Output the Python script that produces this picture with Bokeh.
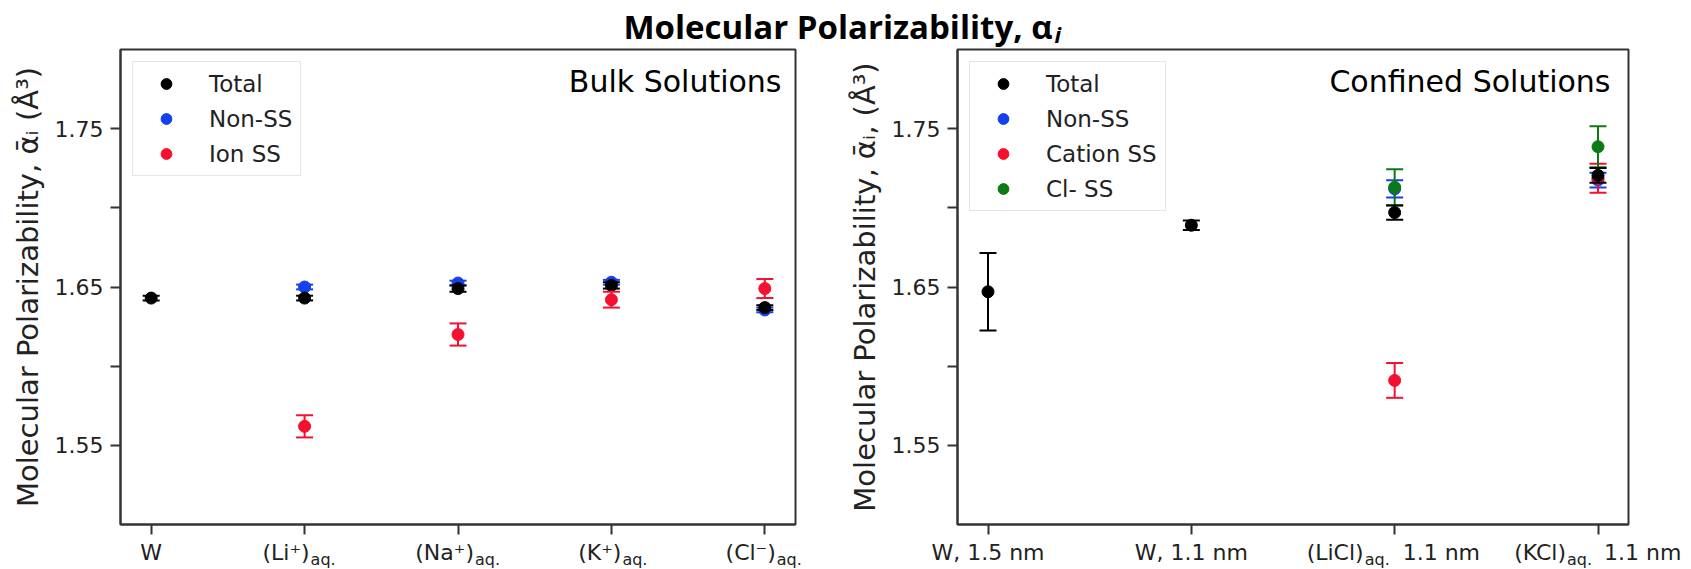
from bokeh.plotting import figure
from bokeh.models import Range1d, FixedTicker, Label, Legend, LegendItem, ColumnDataSource
from bokeh.layouts import column, row
from bokeh.embed import file_html
from bokeh.resources import INLINE

# ---------------- data ----------------
title_main = "Molecular Polarizability, α"
title_sub = "i"

bulk_tick_main = ["W", "(Li⁺)", "(Na⁺)", "(K⁺)", "(Cl⁻)"]
bulk_tick_sub = ["", "aq.", "aq.", "aq.", "aq."]
bulk_x = [0, 1, 2, 3, 4]
bulk_total = [1.643, 1.643, 1.649, 1.651, 1.637]
bulk_total_err = [0.0015, 0.0015, 0.002, 0.002, 0.0015]
bulk_nonss_x = [1, 2, 3, 4]
bulk_nonss = [1.650, 1.6525, 1.653, 1.6355]
bulk_nonss_err = [0.0015, 0.0015, 0.0015, 0.0015]
bulk_ionss_x = [1, 2, 3, 4]
bulk_ionss = [1.562, 1.620, 1.642, 1.649]
bulk_ionss_err = [0.007, 0.007, 0.005, 0.006]

conf_tick_main = ["W, 1.5 nm", "W, 1.1 nm", "(LiCl)", "(KCl)"]
conf_tick_sub = ["", "", "aq.", "aq."]
conf_tick_suffix = ["", "", "1.1 nm", "1.1 nm"]
conf_x = [0, 1, 2, 3]
conf_total = [1.647, 1.689, 1.697, 1.7205]
conf_total_err = [0.0245, 0.003, 0.0045, 0.0047]
conf_nonss_x = [2, 3]
conf_nonss = [1.712, 1.7175]
conf_nonss_err = [0.0054, 0.0047]
conf_cation_x = [2, 3]
conf_cation = [1.591, 1.7187]
conf_cation_err = [0.011, 0.0092]
conf_cl_x = [2, 3]
conf_cl = [1.713, 1.7386]
conf_cl_err = [0.0114, 0.013]

y_tick_values = [1.55, 1.65, 1.75]
y_tick_labels = ["1.55", "1.65", "1.75"]
y_minor_values = [1.60, 1.70]

bulk_ylabel = "Molecular Polarizability, ᾱᵢ (Å³)"
conf_ylabel = "Molecular Polarizability, ᾱᵢ, (Å³)"
bulk_note = "Bulk Solutions"
conf_note = "Confined Solutions"

# ---------------- style / layout ----------------
BLACK = "#000000"
BLUE = "#1440ee"
RED = "#f5102f"
GREEN = "#0b7a16"
SPINE = "#333333"
TXT = "#222222"
FONT = "DejaVu Sans"

W_TOTAL = 1691
TITLE_H = 48
TOP_B = 1
FRAME_H = 475
BOTTOM_B = 13
STRIP_H = 569 - TITLE_H - TOP_B - FRAME_H - BOTTOM_B

L_FRAME_W, L_BL, L_BR = 675, 120, 42
R_FRAME_W, R_BL, R_BR = 671, 120, 63
LEFT_W = L_FRAME_W + L_BL + L_BR


def add_series(p, xs, ys, errs, color):
    lo = [y - e for y, e in zip(ys, errs)]
    hi = [y + e for y, e in zip(ys, errs)]
    src = ColumnDataSource(dict(x=xs, y=ys, lo=lo, hi=hi))
    p.segment(x0="x", y0="lo", x1="x", y1="hi", source=src, line_color=color, line_width=2)
    p.scatter(x="x", y="lo", source=src, marker="dash", size=17, line_color=color, line_width=2)
    p.scatter(x="x", y="hi", source=src, marker="dash", size=17, line_color=color, line_width=2)
    return p.scatter(x="x", y="y", source=src, marker="circle", size=12,
                     fill_color=color, line_color=color)


def make_panel(xr, frame_w, border_left, border_right, ylabel, n):
    p = figure(title=None, x_range=xr, y_range=Range1d(1.50, 1.80),
               frame_width=frame_w, frame_height=FRAME_H,
               min_border_left=border_left, min_border_right=border_right,
               min_border_top=TOP_B, min_border_bottom=BOTTOM_B,
               toolbar_location=None, output_backend="svg")
    p.background_fill_color = "white"
    p.border_fill_color = "white"
    p.grid.visible = False
    p.outline_line_color = SPINE
    p.outline_line_width = 2
    for ax in (p.xaxis[0], p.yaxis[0]):
        ax.axis_line_color = SPINE
        ax.axis_line_width = 2
        ax.major_tick_line_color = SPINE
        ax.major_tick_line_width = 2
        ax.major_tick_out = 10
        ax.major_tick_in = 0
        ax.minor_tick_line_color = SPINE
        ax.minor_tick_line_width = 2
        ax.minor_tick_out = 10
        ax.minor_tick_in = 0
        ax.major_label_text_font = FONT
        ax.major_label_text_font_size = "22px"
        ax.major_label_text_color = TXT
    p.yaxis.ticker = FixedTicker(ticks=y_tick_values, minor_ticks=y_minor_values)
    p.yaxis.major_label_overrides = {v: s for v, s in zip(y_tick_values, y_tick_labels)}
    p.yaxis.major_label_standoff = 7
    p.yaxis.axis_label = ylabel
    p.yaxis.axis_label_text_font = FONT
    p.yaxis.axis_label_text_font_size = "29px"
    p.yaxis.axis_label_text_font_style = "normal"
    p.yaxis.axis_label_text_color = TXT
    p.yaxis.axis_label_standoff = 7
    p.xaxis.ticker = FixedTicker(ticks=list(range(n)), minor_ticks=[])
    p.xaxis.major_label_overrides = {i: "" for i in range(n)}
    p.xaxis.major_label_text_font_size = "1px"
    p.xaxis.major_label_standoff = 0
    return p


def legend(p, items):
    lg = Legend(items=[LegendItem(label=l, renderers=[r]) for l, r in items],
                location="top_left", margin=12, padding=8, spacing=8,
                glyph_width=50, glyph_height=27, label_standoff=18,
                label_text_font=FONT, label_text_font_size="23px", label_text_color=TXT,
                border_line_color="#cccccc", border_line_width=1.5,
                background_fill_color="white", background_fill_alpha=1.0)
    p.add_layout(lg)


def note(p, xr, text, x_off):
    p.add_layout(Label(x=xr.end, y=1.80, x_offset=x_off, y_offset=-32, text=text,
                       text_align="right", text_baseline="alphabetic",
                       text_font=FONT, text_font_size="30px", text_color=BLACK))


# ---------------- left panel ----------------
xr1 = Range1d(-0.2, 4.2)
p1 = make_panel(xr1, L_FRAME_W, L_BL, L_BR, bulk_ylabel, len(bulk_x))
r_b_non = add_series(p1, bulk_nonss_x, bulk_nonss, bulk_nonss_err, BLUE)
r_b_tot = add_series(p1, bulk_x, bulk_total, bulk_total_err, BLACK)
r_b_ion = add_series(p1, bulk_ionss_x, bulk_ionss, bulk_ionss_err, RED)
legend(p1, [("Total", r_b_tot), ("Non-SS", r_b_non), ("Ion SS", r_b_ion)])
note(p1, xr1, bulk_note, -14)

# ---------------- right panel ----------------
xr2 = Range1d(-0.15, 3.15)
p2 = make_panel(xr2, R_FRAME_W, R_BL, R_BR, conf_ylabel, len(conf_x))
r_c_non = add_series(p2, conf_nonss_x, conf_nonss, conf_nonss_err, BLUE)
r_c_cat = add_series(p2, conf_cation_x, conf_cation, conf_cation_err, RED)
r_c_cl = add_series(p2, conf_cl_x, conf_cl, conf_cl_err, GREEN)
r_c_tot = add_series(p2, conf_x, conf_total, conf_total_err, BLACK)
legend(p2, [("Total", r_c_tot), ("Non-SS", r_c_non), ("Cation SS", r_c_cat), ("Cl- SS", r_c_cl)])
note(p2, xr2, conf_note, -18)

# ---------------- tick-label strip (shares the panels' x scales) ----------------
k1 = L_FRAME_W / (xr1.end - xr1.start)
a1 = xr1.start - L_BL / k1
k2 = R_FRAME_W / (xr2.end - xr2.start)
a2 = xr2.start - (LEFT_W + R_BL) / k2
strip = figure(title=None, width=W_TOTAL, height=STRIP_H,
               x_range=Range1d(a1, a1 + W_TOTAL / k1), y_range=Range1d(0, STRIP_H),
               x_axis_type=None, y_axis_type=None, min_border=0,
               toolbar_location=None, output_backend="svg")
strip.extra_x_ranges = {"conf": Range1d(a2, a2 + W_TOTAL / k2)}
strip.grid.visible = False
strip.outline_line_color = None
strip.border_fill_color = "white"

MAIN_Y = 569 - 558 + 6
SUB_Y = 569 - 563 + 4


def tick_label(x, text, align, x_off, y, size, rng="default"):
    strip.add_layout(Label(x=x, y=y, x_offset=x_off, text=text, x_range_name=rng,
                           text_align=align, text_baseline="alphabetic",
                           text_font=FONT, text_font_size=size, text_color=TXT))


bulk_join = [0, 5, 16, 10, 11]
for i, (m, sb) in enumerate(zip(bulk_tick_main, bulk_tick_sub)):
    if sb:
        tick_label(bulk_x[i], m, "right", bulk_join[i], MAIN_Y, "22px")
        tick_label(bulk_x[i], sb, "left", bulk_join[i] + 1, SUB_Y, "16px")
    else:
        tick_label(bulk_x[i], m, "center", 0, MAIN_Y, "22px")

conf_join = [0, 0, -31, -32]
conf_suffix_off = [0, 0, 8, 6]
for i, (m, sb, sf) in enumerate(zip(conf_tick_main, conf_tick_sub, conf_tick_suffix)):
    if sb:
        tick_label(conf_x[i], m, "right", conf_join[i], MAIN_Y, "22px", "conf")
        tick_label(conf_x[i], sb, "left", conf_join[i] + 1, SUB_Y, "16px", "conf")
        tick_label(conf_x[i], sf, "left", conf_suffix_off[i], MAIN_Y, "22px", "conf")
    else:
        tick_label(conf_x[i], m, "center", 0, MAIN_Y, "22px", "conf")

# ---------------- title ----------------
t = figure(title=None, width=W_TOTAL, height=TITLE_H, x_range=Range1d(0, W_TOTAL), y_range=Range1d(0, TITLE_H),
           x_axis_type=None, y_axis_type=None, min_border=0,
           toolbar_location=None, output_backend="svg")
t.grid.visible = False
t.outline_line_color = None
t.add_layout(Label(x=1052, y=22, text=title_main, text_align="right", text_baseline="alphabetic",
                   text_font="Open Sans", text_font_style="bold", text_font_size="33px", text_color=BLACK))
t.add_layout(Label(x=1054, y=15, text=title_sub, text_align="left", text_baseline="alphabetic",
                   text_font="Open Sans", text_font_style="bold italic", text_font_size="22px", text_color=BLACK))

layout = column(t, row(p1, p2, spacing=0), strip, spacing=0)
open("out.html", "w").write(file_html(layout, INLINE))
